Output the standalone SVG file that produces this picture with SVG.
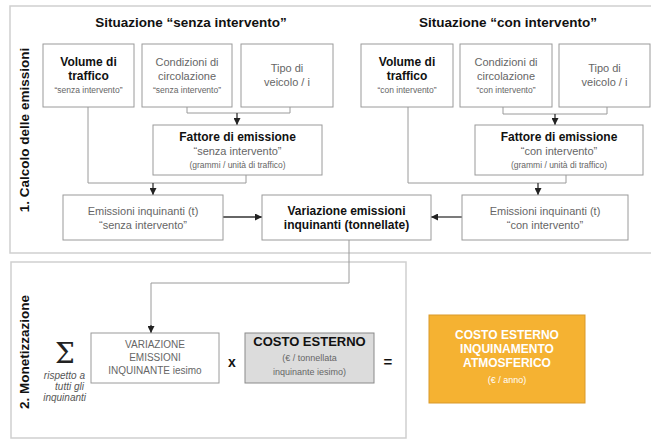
<svg xmlns="http://www.w3.org/2000/svg" width="651" height="440" viewBox="0 0 651 440">
<defs>
<marker id="ah" viewBox="0 0 10 10" refX="10" refY="5" markerWidth="7" markerHeight="7" orient="auto" markerUnits="userSpaceOnUse">
<path d="M0,0 L10,5 L0,10 z" fill="#222"/>
</marker>
</defs>
<style>
text{font-family:"Liberation Sans",Arial,sans-serif;text-anchor:middle}
.panel{fill:none;stroke:#cfcfcf;stroke-width:1.5}
.box{fill:#fff;stroke:#9a9a9a;stroke-width:1}
.b{font-weight:bold;fill:#111;font-size:12px}
.t{font-weight:bold;fill:#111;font-size:13.5px}
.n{fill:#666;font-size:11px}
.s{fill:#666;font-size:8.5px}
.c{fill:none;stroke:#9a9a9a;stroke-width:1}
.a{fill:none;stroke:#333;stroke-width:1.3}
.w{fill:#fff;font-size:12px;font-weight:bold}
.i{font-size:10px;font-style:italic;fill:#555;text-anchor:end}
</style>
<rect width="651" height="440" fill="#fff"/>
<rect class="panel" x="10" y="6" width="660" height="247"/>
<rect class="panel" x="11" y="262" width="395" height="176"/>
<text class="t" transform="translate(29,130) rotate(-90)">1. Calcolo delle emissioni</text>
<text class="t" transform="translate(29,352) rotate(-90)">2. Monetizzazione</text>
<text class="t" x="191" y="27">Situazione “senza intervento”</text>
<text class="t" x="508" y="27">Situazione “con intervento”</text>

<g id="connectors">
<polyline class="c" points="187,107 187,113 290,113 290,107"/>
<line class="a" x1="237" y1="113" x2="237" y2="125" marker-end="url(#ah)"/>
<polyline class="c" points="88,107 88,183 246,183 246,175"/>
<line class="a" x1="153" y1="183" x2="153" y2="195" marker-end="url(#ah)"/>
<line class="a" x1="223" y1="217" x2="262" y2="217" marker-end="url(#ah)"/>
<polyline class="c" points="503,107 503,114 607,114 607,107"/>
<line class="a" x1="555" y1="114" x2="555" y2="125" marker-end="url(#ah)"/>
<polyline class="c" points="408,107 408,183 566,183 566,175"/>
<line class="a" x1="538" y1="183" x2="538" y2="195" marker-end="url(#ah)"/>
<line class="a" x1="462" y1="217" x2="431" y2="217" marker-end="url(#ah)"/>
<polyline class="c" points="349,240 349,283 151,283 151,326"/>
<line class="a" x1="151" y1="325" x2="151" y2="333" marker-end="url(#ah)"/>
</g>

<g id="vol-senza"><rect class="box" x="43" y="44" width="91" height="63"/>
<text class="b" x="88.5" y="66">Volume di</text><text class="b" x="88.5" y="80">traffico</text><text class="s" x="88.5" y="93">“senza intervento”</text></g>
<g id="cond-senza"><rect class="box" x="142" y="44" width="90" height="63"/>
<text class="n" x="187" y="66">Condizioni di</text><text class="n" x="187" y="80">circolazione</text><text class="s" x="187" y="93">“senza intervento”</text></g>
<g id="tipo-senza"><rect class="box" x="241" y="44" width="92" height="63"/>
<text class="n" x="287" y="72">Tipo di</text><text class="n" x="287" y="86">veicolo / i</text></g>
<g id="fatt-senza"><rect class="box" x="153" y="125" width="169" height="50"/>
<text class="b" x="237.5" y="141">Fattore di emissione</text><text class="n" x="237.5" y="155">“senza intervento”</text><text class="s" x="237.5" y="168">(grammi / unità di traffico)</text></g>
<g id="emis-senza"><rect class="box" x="63" y="195" width="160" height="45"/>
<text class="n" x="143" y="215">Emissioni inquinanti (t)</text><text class="n" x="143" y="229">“senza intervento”</text></g>
<g id="variazione"><rect class="box" x="262" y="195" width="169" height="45"/>
<text class="b" x="346.5" y="215">Variazione emissioni</text><text class="b" x="346.5" y="229">inquinanti (tonnellate)</text></g>

<g id="vol-con"><rect class="box" x="361" y="44" width="92" height="63"/>
<text class="b" x="407" y="66">Volume di</text><text class="b" x="407" y="80">traffico</text><text class="s" x="407" y="93">“con intervento”</text></g>
<g id="cond-con"><rect class="box" x="460" y="44" width="92" height="63"/>
<text class="n" x="506" y="66">Condizioni di</text><text class="n" x="506" y="80">circolazione</text><text class="s" x="506" y="93">“con intervento”</text></g>
<g id="tipo-con"><rect class="box" x="559" y="44" width="91" height="63"/>
<text class="n" x="604.5" y="72">Tipo di</text><text class="n" x="604.5" y="86">veicolo / i</text></g>
<g id="fatt-con"><rect class="box" x="475" y="125" width="168" height="50"/>
<text class="b" x="559" y="141">Fattore di emissione</text><text class="n" x="559" y="155">“con intervento”</text><text class="s" x="559" y="168">(grammi / unità di traffico)</text></g>
<g id="emis-con"><rect class="box" x="462" y="195" width="166" height="45"/>
<text class="n" x="545" y="215">Emissioni inquinanti (t)</text><text class="n" x="545" y="229">“con intervento”</text></g>

<g id="sigma">
<text x="65" y="363" style="font-family:'DejaVu Serif',serif;font-size:28px;fill:#222">Σ</text>
<text class="i" x="85" y="379">rispetto a</text>
<text class="i" x="84" y="390">tutti gli</text>
<text class="i" x="86" y="401">inquinanti</text>
</g>
<g id="var-iesimo"><rect class="box" x="91" y="333" width="128" height="50"/>
<text class="n" x="155" y="348" style="font-size:10px">VARIAZIONE</text><text class="n" x="155" y="361" style="font-size:10px">EMISSIONI</text><text class="n" x="155" y="374" style="font-size:10px">INQUINANTE iesimo</text></g>
<text x="232" y="367" style="font-weight:bold;font-size:14px;fill:#111">x</text>
<g id="costo"><rect x="245" y="333" width="129" height="50" fill="#dcdcdc" stroke="#8a8a8a" stroke-width="1"/>
<text class="b" x="309.5" y="346" style="font-size:13px">COSTO ESTERNO</text><text class="s" x="309.5" y="361" style="font-size:9px">(€ / tonnellata</text><text class="s" x="309.5" y="375" style="font-size:9px">inquinante iesimo)</text></g>
<text x="388" y="367" style="font-weight:bold;font-size:15px;fill:#111">=</text>
<g id="totale"><rect x="429" y="315" width="156" height="88" fill="#f5b232" stroke="#d9992a" stroke-width="1"/>
<text class="w" x="507" y="339">COSTO ESTERNO</text><text class="w" x="507" y="353">INQUINAMENTO</text><text class="w" x="507" y="367">ATMOSFERICO</text>
<text x="507" y="383" style="fill:#fff;font-size:9px">(€ / anno)</text></g>
</svg>
